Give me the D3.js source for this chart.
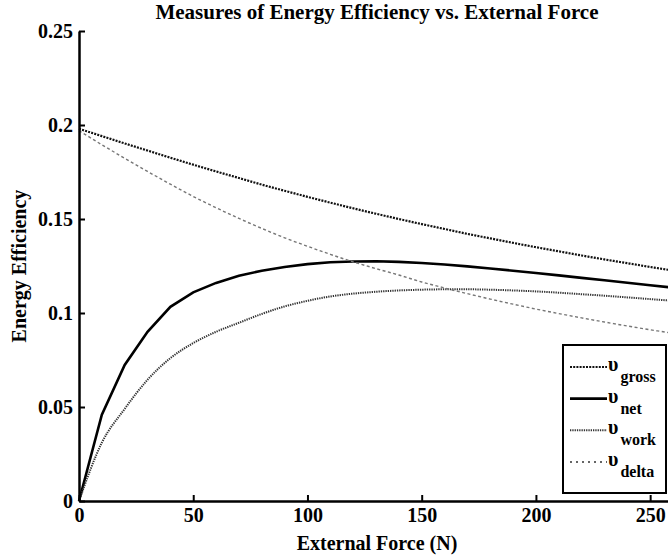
<!DOCTYPE html>
<html>
<head>
<script src="https://cdn.jsdelivr.net/npm/d3@7"></script>
</head>
<body style="margin:0">
<svg id="chart"></svg>
<script>
// external force (N), sampled every 10 N
const force = [0, 10, 20, 30, 40, 50, 60, 70, 80, 90, 100, 110, 120, 130, 140, 150, 160, 170, 180, 190, 200, 210, 220, 230, 240, 250, 260];

const gross = [0.198, 0.1941, 0.1902, 0.1864, 0.1826, 0.1789, 0.1753, 0.1718, 0.1683, 0.1650, 0.1618, 0.1587, 0.1557, 0.1528, 0.1500, 0.1473, 0.1447, 0.1421, 0.1397, 0.1373, 0.1350, 0.1328, 0.1306, 0.1285, 0.1265, 0.1245, 0.1226];
const net = [0, 0.0459, 0.0724, 0.0900, 0.1033, 0.1110, 0.1160, 0.1198, 0.1225, 0.1245, 0.1260, 0.1270, 0.1274, 0.1275, 0.1272, 0.1266, 0.1258, 0.1248, 0.1237, 0.1225, 0.1213, 0.1200, 0.1187, 0.1174, 0.1161, 0.1148, 0.1135];
const work = [0, 0.0310, 0.0490, 0.0645, 0.0760, 0.0840, 0.0900, 0.0948, 0.0995, 0.1035, 0.1065, 0.1088, 0.1103, 0.1113, 0.1120, 0.1124, 0.1126, 0.1126, 0.1124, 0.1120, 0.1115, 0.1108, 0.1100, 0.1092, 0.1083, 0.1074, 0.1065];
const delta = [0.197, 0.1895, 0.1823, 0.1753, 0.1685, 0.1620, 0.1560, 0.1503, 0.1450, 0.1400, 0.1355, 0.1312, 0.1272, 0.1236, 0.1202, 0.1165, 0.1133, 0.1103, 0.1074, 0.1047, 0.1021, 0.0997, 0.0974, 0.0952, 0.0931, 0.0911, 0.0892];

const xTicks = [0, 50, 100, 150, 200, 250];
const yTicks = [0, 0.05, 0.1, 0.15, 0.2, 0.25];

const seriesNames = ["gross", "net", "work", "delta"];

const w = 668;
const h = 557;
const font = "Liberation Serif";

const svg = d3.select("#chart").attr("width", w).attr("height", h).style("display", "block");

const xScale = d3.scaleLinear().domain([0, 260]).range([79, 673]);
const yScale = d3.scaleLinear().domain([0, 0.25]).range([501, 31]);

const styles = {
  gross: { stroke: "#111", width: 2.2, dash: "2,1.2" },
  net: { stroke: "#000", width: 2.6, dash: null },
  work: { stroke: "#333", width: 2, dash: "1.3,1" },
  delta: { stroke: "#777", width: 1.4, dash: "3,2.5" }
};
const values = { gross, net, work, delta };

// lines
seriesNames.forEach((name) => {
  const line = d3
    .line()
    .x((d, i) => xScale(force[i]))
    .y((d) => yScale(d))
    .curve(name === "net" ? d3.curveLinear : d3.curveMonotoneX);
  svg
    .append("path")
    .datum(values[name])
    .attr("fill", "none")
    .attr("stroke", styles[name].stroke)
    .attr("stroke-width", styles[name].width)
    .attr("stroke-dasharray", styles[name].dash)
    .attr("d", line);
});

// axes
const xAxis = d3.axisBottom(xScale).tickValues(xTicks).tickFormat(d3.format("d")).tickSizeInner(-6).tickSizeOuter(0).tickPadding(7);
const yAxis = d3.axisLeft(yScale).tickValues(yTicks).tickFormat((d) => (d === 0 ? "0" : String(+d.toFixed(2)))).tickSizeInner(-6).tickSizeOuter(0).tickPadding(6);

const gx = svg.append("g").attr("transform", `translate(0, ${yScale(0)})`).call(xAxis);
const gy = svg.append("g").attr("transform", `translate(${xScale(0)}, 0)`).call(yAxis);

[gx, gy].forEach((g) => {
  g.attr("font-family", font).attr("font-size", 20).attr("font-weight", "bold");
  g.select(".domain").attr("stroke", "#000").attr("stroke-width", 2.5);
  g.selectAll(".tick line").attr("stroke", "#000").attr("stroke-width", 2);
  g.selectAll(".tick text").attr("fill", "#000").attr("font-family", font);
});

// titles
function label(x, y, size, str) {
  return svg
    .append("text")
    .attr("x", x)
    .attr("y", y)
    .attr("text-anchor", "middle")
    .attr("font-family", font)
    .attr("font-weight", "bold")
    .attr("font-size", size)
    .text(str);
}
label(377, 19, 21, "Measures of Energy Efficiency vs. External Force");
label(377, 550, 20, "External Force (N)");
label(0, 0, 20, "Energy Efficiency").attr("transform", "translate(26, 266) rotate(-90)");

// legend
const legend = svg.append("g");
legend.append("rect").attr("x", 563).attr("y", 345).attr("width", 103).attr("height", 148).attr("fill", "#fff").attr("stroke", "#000").attr("stroke-width", 2);

const legendY = d3.scalePoint().domain(seriesNames).range([367, 462]);

seriesNames.forEach((name) => {
  const y = legendY(name);
  legend
    .append("line")
    .attr("x1", 570)
    .attr("x2", 607)
    .attr("y1", y)
    .attr("y2", y)
    .attr("stroke", name === "delta" ? "#333" : styles[name].stroke)
    .attr("stroke-width", styles[name].width)
    .attr("stroke-dasharray", name === "delta" ? "2,4" : styles[name].dash);
  const t = legend
    .append("text")
    .attr("x", 608)
    .attr("y", y + 4)
    .attr("font-family", font)
    .attr("font-weight", "bold")
    .attr("font-size", 20);
  t.append("tspan").text("\u03C5");
  t.append("tspan").attr("dx", 2).attr("dy", 11).attr("font-size", 16).text(name);
});
</script>
</body>
</html>
